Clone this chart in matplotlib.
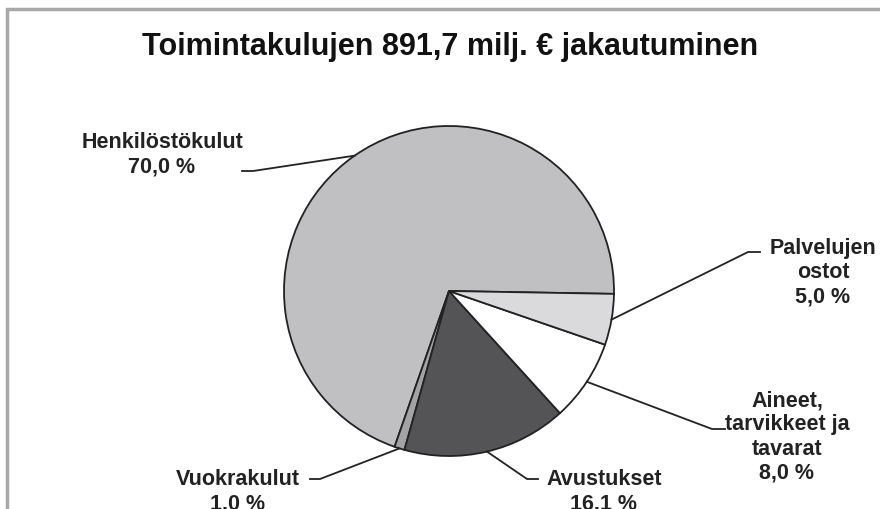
"""Toimintakulujen jakautuminen, piirakkakaavio."""
import numpy as np
from matplotlib import pyplot as plt

categories = ['Henkilöstökulut', 'Vuokrakulut', 'Avustukset',
              'Aineet,\ntarvikkeet ja\ntavarat', 'Palvelujen\nostot']
shares = [70.0, 1.0, 16.1, 8.0, 5.0]
colors = ['#c0c0c2', '#a3a3a5', '#545456', '#ffffff', '#dadadc']

# Label anchors (pixels from bottom-left) and where the leader line bends
label_pos = [(162, 355), (238, 18), (604, 18), (787, 73), (823, 237)]
elbows = [((253, 338), (242, 338)), ((320, 30), (310, 30)),
          ((527, 30), (538, 30)), ((712, 80), (725, 80)),
          ((748, 257), (760, 257))]

W, H = 880, 510
cx, cy, r = 449, 510 - 292, 165

fig = plt.figure(figsize=(8.8, 5.1), dpi=100)
ax = fig.add_axes([0, 0, 1, 1])

wedges, _ = ax.pie(shares, colors=colors, startangle=-1, counterclock=True,
                   center=(cx, cy), radius=r, frame=True,
                   wedgeprops=dict(edgecolor='#222222', linewidth=1.3))
ax.set_xlim(0, W)
ax.set_ylim(0, H)
ax.axis('off')

font = ['Liberation Sans', 'DejaVu Sans']
for w, name, val, pos, (p1, p2) in zip(wedges, categories, shares,
                                       label_pos, elbows):
    # leader line from the middle of the wedge's arc
    mid = np.deg2rad((w.theta1 + w.theta2) / 2)
    x0, y0 = cx + r * np.cos(mid), cy + r * np.sin(mid)
    ax.plot([x0, p1[0], p2[0]], [y0, p1[1], p2[1]], color='#222222', lw=1.3)
    text = f'{name}\n{val:.1f} %'.replace('.', ',')
    ax.text(pos[0], pos[1], text, ha='center', va='center',
            fontsize=15.5, fontweight='bold', family=font,
            color='#222222', linespacing=1.2)

# Title
ax.text(450, H - 47, 'Toimintakulujen 891,7 milj. € jakautuminen',
        ha='center', va='center', fontsize=22, fontweight='bold',
        family=['Liberation Sans Narrow', 'Liberation Sans'],
        color='#111111')

# Gray border round the chart area
ax.plot([7, 7, W + 5], [-5, H - 10, H - 10], color='#a8a8a8', lw=2.5,
        solid_joinstyle='miter')

fig.savefig('out.png', dpi=100)
